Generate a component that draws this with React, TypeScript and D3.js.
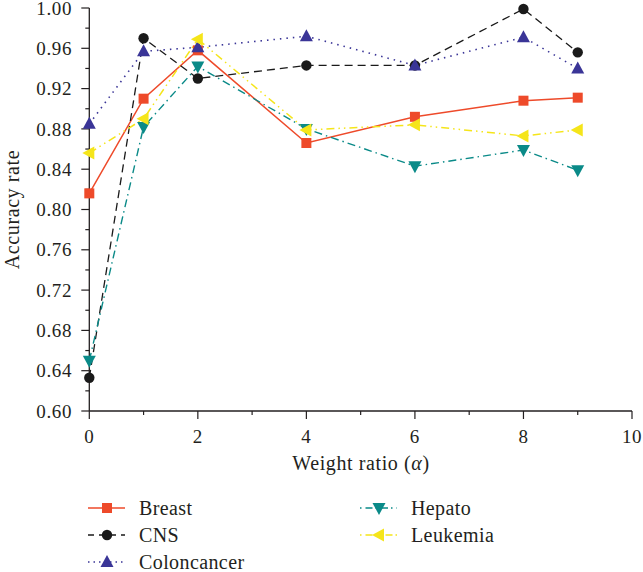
import React from "react";
import * as d3 from "d3";

const xValues = [0, 1, 2, 4, 6, 8, 9];
const breast = [0.816, 0.910, 0.958, 0.866, 0.892, 0.908, 0.911];
const cns = [0.633, 0.970, 0.930, 0.943, 0.943, 0.999, 0.956];
const coloncancer = [0.885, 0.957, 0.961, 0.972, 0.943, 0.971, 0.940];
const hepato = [0.650, 0.882, 0.942, 0.880, 0.843, 0.859, 0.839];
const leukemia = [0.856, 0.890, 0.969, 0.879, 0.884, 0.873, 0.879];
const yTicks = [0.6, 0.64, 0.68, 0.72, 0.76, 0.8, 0.84, 0.88, 0.92, 0.96, 1.0];
const xTicks = [0, 2, 4, 6, 8, 10];

type Series = { name: string; values: number[]; color: string; dash: string; legDash: string; marker: string; width: number };
const series: Series[] = [
  { name: "Breast", values: breast, color: "#ee4a2a", dash: "", legDash: "", marker: "square", width: 1.5 },
  { name: "CNS", values: cns, color: "#1a1a1a", dash: "8,5", legDash: "6,5", marker: "circle", width: 1.3 },
  { name: "Coloncancer", values: coloncancer, color: "#3a3597", dash: "1.5,5", legDash: "1.5,4", marker: "up", width: 1.6 },
  { name: "Hepato", values: hepato, color: "#0a8a88", dash: "8,4,1.5,4", legDash: "1.5,4,7,3", marker: "down", width: 1.4 },
  { name: "Leukemia", values: leukemia, color: "#f5e51a", dash: "8,4,1.5,4,1.5,4", legDash: "1.5,4,7,3,1.5,3", marker: "left", width: 1.5 },
];

const FONT = "Liberation Serif, DejaVu Serif, Times New Roman, serif";

function Marker({ type, x, y, color }: { type: string; x: number; y: number; color: string }) {
  const s = 6;
  if (type === "square") return <rect x={x - 5} y={y - 5} width={10} height={10} fill={color} />;
  if (type === "circle") return <circle cx={x} cy={y} r={5.2} fill={color} />;
  let pts: [number, number][] = [];
  if (type === "up") pts = [[x, y - s - 1], [x - s - 0.5, y + s - 1], [x + s + 0.5, y + s - 1]];
  if (type === "down") pts = [[x, y + s + 1], [x - s - 0.5, y - s + 1], [x + s + 0.5, y - s + 1]];
  if (type === "left") pts = [[x - s - 1, y], [x + s - 1, y - s - 0.5], [x + s - 1, y + s + 0.5]];
  return <polygon points={pts.map((p) => p.join(",")).join(" ")} fill={color} />;
}

export default function App() {
  const W = 643, H = 572;
  const x = d3.scaleLinear().domain([0, 10]).range([89.3, 632]);
  const y = d3.scaleLinear().domain([0.6, 1.0]).range([411, 8]);
  const line = d3.line<number>().x((_, i) => x(xValues[i])).y((d) => y(d));
  const minorY = d3.range(0.62, 1.0, 0.04);
  const minorX = [1, 3, 5, 7, 9];
  const legendPos = [
    [88, 508], [88, 535], [88, 562], [360, 508], [360, 535],
  ];
  const ink = "#231f20";
  const ts = { fontFamily: FONT };
  return (
    <svg width={W} height={H} style={{ position: "absolute", left: 0, top: 0, fontFamily: FONT }}>
      <rect width={W} height={H} fill="#fff" />
      {/* axes */}
      <line x1={x(0)} x2={x(0)} y1={y(1.0)} y2={y(0.6)} stroke={ink} strokeWidth={1.3} />
      <line x1={x(0)} x2={x(10)} y1={y(0.6)} y2={y(0.6)} stroke={ink} strokeWidth={1.3} />
      {yTicks.map((t) => (
        <g key={"y" + t}>
          <line x1={x(0) - 8} x2={x(0)} y1={y(t)} y2={y(t)} stroke={ink} strokeWidth={1.2} />
          <text style={ts} x={72} y={y(t)} dy="0.35em" textAnchor="end" fontSize={19} fill={ink} letterSpacing={0.6}>
            {t.toFixed(2)}
          </text>
        </g>
      ))}
      {minorY.map((t) => (
        <line key={"my" + t} x1={x(0) - 4} x2={x(0)} y1={y(t)} y2={y(t)} stroke={ink} strokeWidth={1.2} />
      ))}
      {xTicks.map((t) => (
        <g key={"x" + t}>
          <line x1={x(t)} x2={x(t)} y1={y(0.6)} y2={y(0.6) + 8} stroke={ink} strokeWidth={1.2} />
          <text style={ts} x={x(t)} y={443} textAnchor="middle" fontSize={19} fill={ink} letterSpacing={0.6}>
            {t}
          </text>
        </g>
      ))}
      {minorX.map((t) => (
        <line key={"mx" + t} x1={x(t)} x2={x(t)} y1={y(0.6)} y2={y(0.6) + 4} stroke={ink} strokeWidth={1.2} />
      ))}
      <text style={ts} x={361} y={470} textAnchor="middle" fontSize={20} fill={ink} letterSpacing={0.6}>
        Weight ratio (<tspan fontStyle="italic">α</tspan>)
      </text>
      <text style={ts} transform={`translate(19,${(y(1) + y(0.6)) / 2}) rotate(-90)`} textAnchor="middle" fontSize={20} fill={ink} letterSpacing={0.6}>
        Accuracy rate
      </text>
      {/* lines */}
      {series.map((s) => (
        <path key={s.name} d={line(s.values) || ""} fill="none" stroke={s.color} strokeWidth={s.width} strokeDasharray={s.dash} />
      ))}
      {series.map((s) => (
        <g key={s.name + "m"}>
          {s.values.map((v, i) => (
            <Marker key={i} type={s.marker} x={x(xValues[i])} y={y(v)} color={s.color} />
          ))}
        </g>
      ))}
      {/* legend */}
      {series.map((s, i) => {
        const [lx, ly] = legendPos[i];
        return (
          <g key={s.name + "l"}>
            <line x1={lx} x2={lx + 37} y1={ly} y2={ly} stroke={s.color} strokeWidth={s.width} strokeDasharray={s.legDash} />
            <Marker type={s.marker} x={lx + 19} y={ly} color={s.color} />
            <text style={ts} x={lx + 51} y={ly} dy="0.35em" fontSize={20} fill={ink} letterSpacing={0.4}>
              {s.name}
            </text>
          </g>
        );
      })}
    </svg>
  );
}
